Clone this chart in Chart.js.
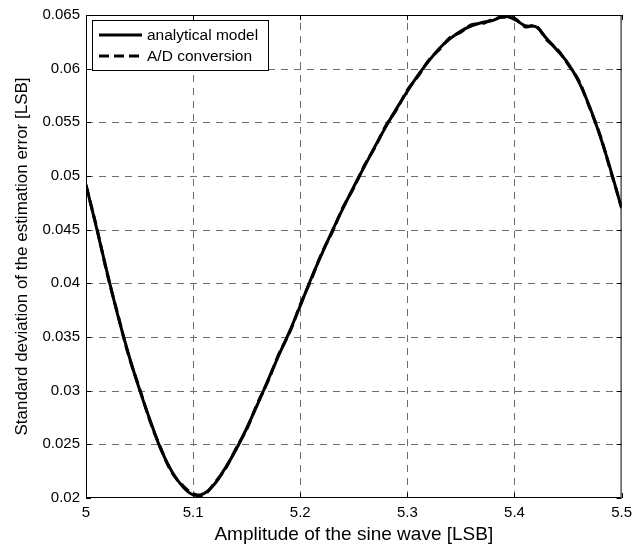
<!DOCTYPE html>
<html lang="en">
<head>
    <meta charset="UTF-8">
    <title>Standard deviation of the estimation error</title>
    <script src="https://cdn.jsdelivr.net/npm/chart.js"></script>
    <style>
        html, body { margin: 0; padding: 0; background: #fff; }
        #wrap { width: 638px; height: 548px; }
    </style>
</head>
<body>
    <div id="wrap"><canvas id="chart" width="638" height="548"></canvas></div>

    <script>
        // amplitude of the sine wave [LSB]
        const amplitude = [
            5.00, 5.01, 5.02, 5.03, 5.04, 5.05, 5.06, 5.07, 5.08, 5.09,
            5.10, 5.11, 5.12, 5.13, 5.14, 5.15, 5.16, 5.17, 5.18, 5.19,
            5.20, 5.21, 5.22, 5.23, 5.24, 5.25, 5.26, 5.27, 5.28, 5.29,
            5.30, 5.31, 5.32, 5.33, 5.34, 5.35, 5.36, 5.37, 5.38, 5.39,
            5.40, 5.41, 5.42, 5.43, 5.44, 5.45, 5.46, 5.47, 5.48, 5.49, 5.50
        ];

        // analytical model
        const analytical = [
            0.0492, 0.0451, 0.0409, 0.0369, 0.0333, 0.0301, 0.0272, 0.0245, 0.0225, 0.0211,
            0.0203, 0.0204, 0.0213, 0.0228, 0.0245, 0.0265, 0.0287, 0.0310, 0.0333, 0.0355,
            0.0379, 0.0404, 0.0427, 0.0449, 0.0470, 0.0490, 0.0509, 0.0528, 0.0546, 0.0563,
            0.0579, 0.0594, 0.0607, 0.0619, 0.0628, 0.0635, 0.0640, 0.0643, 0.0645, 0.0649,
            0.0646, 0.0640, 0.0639, 0.0628, 0.0617, 0.0605, 0.0588, 0.0565, 0.0537, 0.0505, 0.0470
        ];

        // A/D conversion (simulated)
        const adConversion = [
            0.0491, 0.0452, 0.0408, 0.0370, 0.0332, 0.0302, 0.0271, 0.0246, 0.0224, 0.0212,
            0.0204, 0.0203, 0.0214, 0.0227, 0.0246, 0.0264, 0.0288, 0.0309, 0.0334, 0.0354,
            0.0380, 0.0403, 0.0428, 0.0448, 0.0471, 0.0489, 0.0510, 0.0527, 0.0547, 0.0562,
            0.0580, 0.0593, 0.0608, 0.0618, 0.0629, 0.0634, 0.0641, 0.0642, 0.0646, 0.0648,
            0.0647, 0.0639, 0.0640, 0.0627, 0.0618, 0.0604, 0.0589, 0.0564, 0.0538, 0.0504, 0.0471
        ];

        const seriesNames = ['analytical model', 'A/D conversion'];
        const FONT = '"Liberation Sans", Arial, sans-serif';

        // dashed grid under the curves
        const gridPlugin = {
            id: 'dashGrid',
            beforeDatasetsDraw(chart) {
                const ctx = chart.ctx;
                const a = chart.chartArea;
                const xs = chart.scales.x, ys = chart.scales.y;
                ctx.save();
                ctx.strokeStyle = '#6e6e6e';
                ctx.lineWidth = 1;
                ctx.setLineDash([7, 6]);
                ctx.beginPath();
                xs.ticks.forEach(t => {
                    const px = Math.round(xs.getPixelForValue(t.value)) + 0.5;
                    if (px < a.left + 2 || px > a.right - 2) return;
                    ctx.moveTo(px, a.bottom); ctx.lineTo(px, a.top);
                });
                ys.ticks.forEach(t => {
                    const py = Math.round(ys.getPixelForValue(t.value)) + 0.5;
                    if (py < a.top + 2 || py > a.bottom - 2) return;
                    ctx.moveTo(a.left, py); ctx.lineTo(a.right, py);
                });
                ctx.stroke();
                ctx.restore();
            }
        };

        // axis box, inward ticks and legend, MATLAB style
        const framePlugin = {
            id: 'frame',
            afterDatasetsDraw(chart) {
                const ctx = chart.ctx;
                const a = chart.chartArea;
                const xs = chart.scales.x, ys = chart.scales.y;
                ctx.save();
                ctx.strokeStyle = '#000';
                ctx.lineWidth = 1;
                ctx.setLineDash([]);
                ctx.strokeRect(a.left + 0.5, a.top + 0.5, a.right - a.left - 1, a.bottom - a.top - 1);
                ctx.beginPath();
                xs.ticks.forEach(t => {
                    const px = Math.round(xs.getPixelForValue(t.value)) + 0.5;
                    ctx.moveTo(px, a.bottom); ctx.lineTo(px, a.bottom - 5);
                    ctx.moveTo(px, a.top); ctx.lineTo(px, a.top + 5);
                });
                ys.ticks.forEach(t => {
                    const py = Math.round(ys.getPixelForValue(t.value)) + 0.5;
                    ctx.moveTo(a.left, py); ctx.lineTo(a.left + 5, py);
                    ctx.moveTo(a.right, py); ctx.lineTo(a.right - 5, py);
                });
                ctx.stroke();

                // legend box
                const lx = a.left + 6, ly = a.top + 5, lw = 176, lh = 50;
                ctx.fillStyle = '#fff';
                ctx.fillRect(lx, ly, lw, lh);
                ctx.strokeRect(lx + 0.5, ly + 0.5, lw, lh);
                ctx.font = '15.5px ' + FONT;
                ctx.textBaseline = 'middle';
                ctx.textAlign = 'left';
                chart.data.datasets.forEach((ds, i) => {
                    const y = ly + 15 + i * 21;
                    ctx.beginPath();
                    ctx.lineWidth = 3;
                    ctx.setLineDash(i === 0 ? [] : [10, 5]);
                    ctx.moveTo(lx + 7, y);
                    ctx.lineTo(lx + 50, y);
                    ctx.stroke();
                    ctx.setLineDash([]);
                    ctx.fillStyle = '#000';
                    ctx.fillText(ds.label, lx + 55, y + 1);
                });
                ctx.restore();
            }
        };

        const fmt = v => String(Number(v.toFixed(3)));

        new Chart(document.getElementById('chart').getContext('2d'), {
            type: 'line',
            data: {
                datasets: [
                    {
                        label: seriesNames[0],
                        data: amplitude.map((x, i) => ({ x, y: analytical[i] })),
                        borderColor: '#000',
                        borderWidth: 3,
                        pointRadius: 0,
                        tension: 0.35,
                        fill: false
                    },
                    {
                        label: seriesNames[1],
                        data: amplitude.map((x, i) => ({ x, y: adConversion[i] })),
                        borderColor: '#000',
                        borderWidth: 3,
                        borderDash: [10, 5],
                        pointRadius: 0,
                        tension: 0.35,
                        fill: false
                    }
                ]
            },
            options: {
                responsive: false,
                animation: false,
                layout: { padding: { top: 13, right: 12, left: 0, bottom: 0 } },
                plugins: {
                    legend: { display: false },
                    tooltip: { enabled: false }
                },
                scales: {
                    x: {
                        type: 'linear',
                        min: 5,
                        max: 5.5,
                        ticks: {
                            stepSize: 0.1,
                            color: '#000',
                            font: { family: FONT, size: 15 },
                            padding: 6,
                            maxRotation: 0,
                            callback: v => fmt(v)
                        },
                        grid: { display: false, drawTicks: false },
                        border: { display: false },
                        title: {
                            display: true,
                            text: 'Amplitude of the sine wave [LSB]',
                            color: '#000',
                            font: { family: FONT, size: 19 },
                            padding: { top: 0, bottom: 2 }
                        },
                        afterFit: s => { s.height = 50; }
                    },
                    y: {
                        min: 0.02,
                        max: 0.065,
                        ticks: {
                            stepSize: 0.005,
                            color: '#000',
                            font: { family: FONT, size: 15 },
                            padding: 6,
                            callback: v => fmt(v)
                        },
                        grid: { display: false, drawTicks: false },
                        border: { display: false },
                        title: {
                            display: true,
                            text: 'Standard deviation of the estimation error [LSB]',
                            color: '#000',
                            font: { family: FONT, size: 17 },
                            padding: { top: 12, bottom: 0 }
                        },
                        afterFit: s => { s.width = 86; }
                    }
                }
            },
            plugins: [gridPlugin, framePlugin]
        });
    </script>
</body>
</html>
